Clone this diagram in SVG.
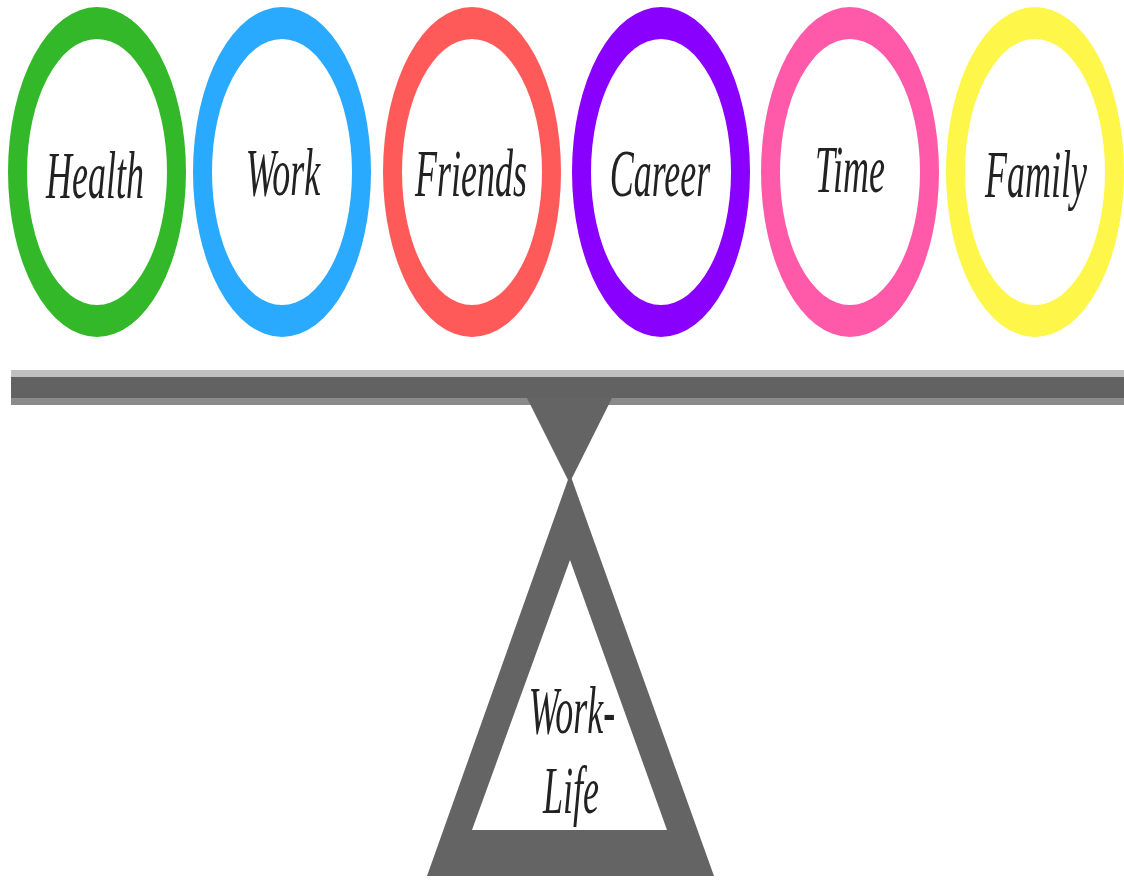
<svg xmlns="http://www.w3.org/2000/svg" width="1124" height="880" viewBox="0 0 1124 880">
<style>
.ring{fill-rule:evenodd}
.lbl{font-family:"Liberation Serif","DejaVu Serif",serif;font-style:italic;font-size:36px;fill:#222;text-anchor:middle}
.gray{fill:#646464}
</style>
<rect width="1124" height="880" fill="#fff"/>
<g id="health">
<path class="ring" fill="#33b82a" d="M8,172a89,165 0 1,0 178,0a89,165 0 1,0 -178,0Z M27,172a70,133 0 1,0 140,0a70,133 0 1,0 -140,0Z"/>
<text class="lbl" transform="translate(95,198) scale(1,1.9)">Health</text>
</g>
<g id="work">
<path class="ring" fill="#2aaaff" d="M193,172a89,165 0 1,0 178,0a89,165 0 1,0 -178,0Z M212,172a70,133 0 1,0 140,0a70,133 0 1,0 -140,0Z"/>
<text class="lbl" transform="translate(283,195) scale(1,1.9)">Work</text>
</g>
<g id="friends">
<path class="ring" fill="#ff5a5a" d="M383,172a89,165 0 1,0 178,0a89,165 0 1,0 -178,0Z M402,172a70,133 0 1,0 140,0a70,133 0 1,0 -140,0Z"/>
<text class="lbl" transform="translate(471,196) scale(1,1.9)">Friends</text>
</g>
<g id="career">
<path class="ring" fill="#8a00ff" d="M572,172a89,165 0 1,0 178,0a89,165 0 1,0 -178,0Z M591,172a70,133 0 1,0 140,0a70,133 0 1,0 -140,0Z"/>
<text class="lbl" transform="translate(660,196) scale(1,1.9)">Career</text>
</g>
<g id="time">
<path class="ring" fill="#ff5aaa" d="M761,172a89,165 0 1,0 178,0a89,165 0 1,0 -178,0Z M780,172a70,133 0 1,0 140,0a70,133 0 1,0 -140,0Z"/>
<text class="lbl" transform="translate(850,192) scale(1,1.9)">Time</text>
</g>
<g id="family">
<path class="ring" fill="#fff64a" d="M946,172a89,165 0 1,0 178,0a89,165 0 1,0 -178,0Z M965,172a70,133 0 1,0 140,0a70,133 0 1,0 -140,0Z"/>
<text class="lbl" transform="translate(1036,197) scale(1,1.9)">Family</text>
</g>
<g id="beam">
<rect x="11" y="370" width="1113" height="7" fill="#c0c0c0"/>
<rect x="11" y="377" width="1113" height="21" fill="#626262"/>
<rect x="11" y="398" width="1113" height="7" fill="#8a8a8a"/>
<path class="gray" d="M527,398 L612,398 L571,480 L568,480 Z"/>
</g>
<g id="fulcrum">
<path class="gray ring" d="M570,474 L714,876 L427,876 Z M570,560 L472,830 L667,830 Z"/>
<text class="lbl" transform="translate(572,733) scale(1,1.9)">Work-</text>
<text class="lbl" transform="translate(571,813) scale(1,1.9)">Life</text>
</g>
</svg>
